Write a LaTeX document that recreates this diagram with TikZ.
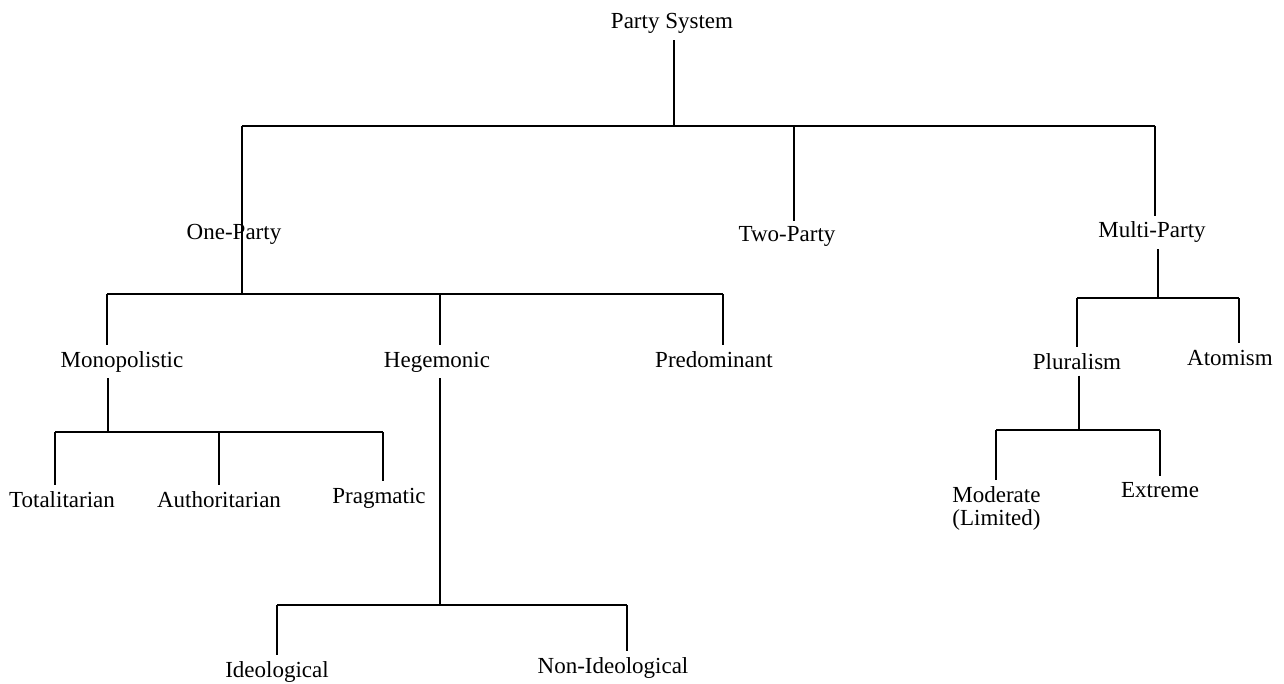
\documentclass[tikz,border=0pt]{standalone}
\usepackage{fontspec}
\setmainfont{Liberation Serif}
\usepackage{tikz}
\usetikzlibrary{calc}

\begin{document}
\begin{tikzpicture}[x=0.5pt,y=-0.5pt,
  lbl/.style={inner sep=3pt,anchor=base,font=\fontsize{11.5}{11.5}\selectfont},
  branch/.style={line width=0.8pt}]

\useasboundingbox (0,0) rectangle (1284,684);

\node [lbl] (ps) at (672,29) {Party System};
\node [lbl] (one) at (234,240) {One-Party};
\node [lbl] (two) at (787,242) {Two-Party};
\node [lbl] (multi) at (1152,238) {Multi-Party};
\node [lbl] (mono) at (122,367) {Monopolistic};
\node [lbl] (heg) at (437,367) {Hegemonic};
\node [lbl] (pred) at (714,367) {Predominant};
\node [lbl] (plur) at (1077,369) {Pluralism};
\node [lbl] (atom) at (1230,365) {Atomism};
\node [lbl] (tot) at (62,507) {Totalitarian};
\node [lbl] (auth) at (219,507) {Authoritarian};
\node [lbl] (prag) at (379,503) {Pragmatic};
\node [lbl,anchor=north west,align=left] (mod) at (946,480) {Moderate\\(Limited)};
\node [lbl] (ext) at (1160,497) {Extreme};
\node [lbl] (ideo) at (277,677) {Ideological};
\node [lbl] (nonideo) at (613,673) {Non-Ideological};

\coordinate (j0) at (674,126);
\coordinate (bl1) at (242,126);
\coordinate (bm1) at (794,126);
\coordinate (br1) at (1155,126);
\coordinate (j1) at (242,294);
\coordinate (bl2) at (107,294);
\coordinate (bm2) at (440,294);
\coordinate (br2) at (723,294);
\coordinate (j2) at (1158,298);
\coordinate (bl3) at (1077,298);
\coordinate (br3) at (1239,298);
\coordinate (j4) at (1079,430);
\coordinate (bl4) at (996,430);
\coordinate (br4) at (1160,430);
\coordinate (j5) at (108,432);
\coordinate (bl5) at (55,432);
\coordinate (bm5) at (219,432);
\coordinate (br5) at (383,432);
\coordinate (j6) at (440,605);
\coordinate (bl6) at (277,605);
\coordinate (br6) at (627,605);

\draw [branch] (ps.south -| j0)-- (j0);
\draw [branch] (bl1)-- (br1);
\draw [branch] (bl1)-- (j1);
\draw [branch] (bm1)-- (bm1 |- two.north);
\draw [branch] (br1)-- (br1 |- multi.north);

\draw [branch] (bl2)-- (br2);
\draw [branch] (bl2)-- (bl2 |- mono.north);
\draw [branch] (bm2)-- (bm2 |- heg.north);
\draw [branch] (br2)-- (br2 |- pred.north);

\draw [branch] (multi.south -| j2)-- (j2);
\draw [branch] (bl3)-- (br3);
\draw [branch] (bl3)-- (bl3 |- plur.north);
\draw [branch] (br3)-- (br3 |- atom.north);

\draw [branch] (plur.south -| j4)-- (j4);
\draw [branch] (bl4)-- (br4);
\draw [branch] (bl4)-- (bl4 |- mod.north);
\draw [branch] (br4)-- (br4 |- ext.north);

\draw [branch] (mono.south -| j5)-- (j5);
\draw [branch] (bl5)-- (br5);
\draw [branch] (bl5)-- (bl5 |- tot.north);
\draw [branch] (bm5)-- (bm5 |- auth.north);
\draw [branch] (br5)-- (br5 |- prag.north);

\draw [branch] (heg.south -| j6)-- (j6);
\draw [branch] (bl6)-- (br6);
\draw [branch] (bl6)-- (bl6 |- ideo.north);
\draw [branch] (br6)-- (br6 |- nonideo.north);

\end{tikzpicture}
\end{document}
